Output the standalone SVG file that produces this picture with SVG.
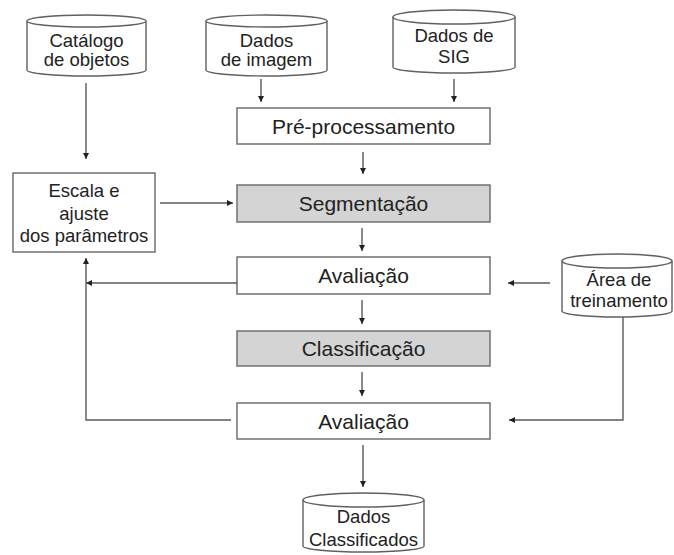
<svg xmlns="http://www.w3.org/2000/svg" width="674" height="555" viewBox="0 0 674 555">
<style>
  .box { fill: #ffffff; stroke: #707070; stroke-width: 1.5; }
  .gray { fill: #d4d4d4; stroke: #707070; stroke-width: 1.5; }
  .cyl { fill: #ffffff; stroke: #606060; stroke-width: 1.4; }
  .t { font-family: "Liberation Sans", Arial, sans-serif; fill: #222222; text-anchor: middle; }
  .big { font-size: 21px; }
  .small { font-size: 18.5px; }
  .conn { fill: none; stroke: #5a5a5a; stroke-width: 1.4; marker-end: url(#arr); }
  .plain { fill: none; stroke: #5a5a5a; stroke-width: 1.4; }
</style>
<defs>
  <marker id="arr" markerUnits="userSpaceOnUse" markerWidth="7" markerHeight="6" refX="6" refY="3" orient="auto">
    <path d="M0,0 L6,3 L0,6 z" fill="#222222"/>
  </marker>
</defs>
<rect width="674" height="555" fill="#ffffff"/>

<g id="catalogo">
  <path class="cyl" d="M27,21 V70 A59.5,6 0 0 0 146,70 V21"/>
  <ellipse class="cyl" cx="86.5" cy="21" rx="59.5" ry="6"/>
  <text class="t small" x="86.5" y="47">Catálogo</text>
  <text class="t small" x="86.5" y="66">de objetos</text>
</g>
<g id="dados-imagem">
  <path class="cyl" d="M206,21 V70 A60.5,6 0 0 0 327,70 V21"/>
  <ellipse class="cyl" cx="266.5" cy="21" rx="60.5" ry="6"/>
  <text class="t small" x="266.5" y="47">Dados</text>
  <text class="t small" x="266.5" y="66">de imagem</text>
</g>
<g id="dados-sig">
  <path class="cyl" d="M393,17 V67 A61,6 0 0 0 515,67 V17"/>
  <ellipse class="cyl" cx="454" cy="17" rx="61" ry="7"/>
  <text class="t small" x="454" y="42">Dados de</text>
  <text class="t small" x="454" y="63">SIG</text>
</g>
<g id="preprocessamento">
  <rect class="box" x="237" y="108" width="253" height="36"/>
  <text class="t big" x="363.5" y="134">Pré-processamento</text>
</g>
<g id="escala">
  <rect class="box" x="13" y="173" width="142" height="79"/>
  <text class="t small" x="84" y="197">Escala e</text>
  <text class="t small" x="84" y="219.5">ajuste</text>
  <text class="t small" x="84" y="242">dos parâmetros</text>
</g>
<g id="segmentacao">
  <rect class="gray" x="237" y="185" width="253" height="37"/>
  <text class="t big" x="363.5" y="211">Segmentação</text>
</g>
<g id="avaliacao1">
  <rect class="box" x="237" y="257" width="253" height="37"/>
  <text class="t big" x="363.5" y="283">Avaliação</text>
</g>
<g id="area-treinamento">
  <path class="cyl" d="M562,261 V311 A55,6 0 0 0 672,311 V261"/>
  <ellipse class="cyl" cx="617" cy="261" rx="55" ry="7"/>
  <text class="t small" x="619" y="286">Área de</text>
  <text class="t small" x="619" y="307">treinamento</text>
</g>
<g id="classificacao">
  <rect class="gray" x="237" y="331" width="253" height="35"/>
  <text class="t big" x="363.5" y="356">Classificação</text>
</g>
<g id="avaliacao2">
  <rect class="box" x="237" y="403" width="253" height="36"/>
  <text class="t big" x="363.5" y="429">Avaliação</text>
</g>
<g id="dados-classificados">
  <path class="cyl" d="M303,500 V546 A60.5,6 0 0 0 424,546 V500"/>
  <ellipse class="cyl" cx="363.5" cy="500" rx="60.5" ry="7"/>
  <text class="t small" x="363.5" y="523">Dados</text>
  <text class="t small" x="363.5" y="546">Classificados</text>
</g>

<g id="connectors">
  <line class="conn" x1="86" y1="83" x2="86" y2="159"/>
  <line class="conn" x1="261" y1="79" x2="261" y2="102"/>
  <line class="conn" x1="454" y1="79" x2="454" y2="102"/>
  <line class="conn" x1="363" y1="152" x2="363" y2="174"/>
  <line class="conn" x1="160" y1="203" x2="233" y2="203"/>
  <line class="conn" x1="362" y1="228" x2="362" y2="251"/>
  <line class="conn" x1="237" y1="283" x2="86" y2="283"/>
  <polyline class="conn" points="231,420 86,420 86,258"/>
  <line class="conn" x1="550" y1="283" x2="508" y2="283"/>
  <line class="conn" x1="362" y1="300" x2="362" y2="324"/>
  <line class="conn" x1="362" y1="372" x2="362" y2="396"/>
  <polyline class="conn" points="623,317 623,420 509,420"/>
  <line class="conn" x1="363" y1="445" x2="363" y2="487"/>
</g>
</svg>
